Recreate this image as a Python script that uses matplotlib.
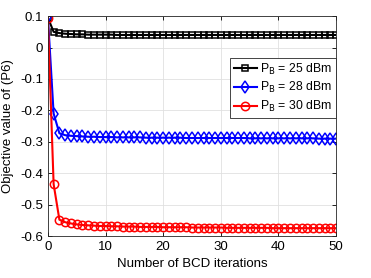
import numpy as np
from matplotlib import pyplot as plt

plt.rcParams['font.family'] = ['Liberation Sans', 'DejaVu Sans']

iters = np.arange(0, 51)

# objective values
obj_25 = [0.095, 0.05, 0.046, 0.044, 0.043, 0.042, 0.042, 0.041, 0.041, 0.041,
          0.041, 0.041, 0.040, 0.040, 0.040, 0.040, 0.040, 0.040, 0.040, 0.040,
          0.040, 0.040, 0.040, 0.040, 0.040, 0.040, 0.040, 0.040, 0.040, 0.040,
          0.040, 0.040, 0.040, 0.040, 0.040, 0.040, 0.040, 0.040, 0.040, 0.040,
          0.040, 0.040, 0.040, 0.040, 0.040, 0.040, 0.040, 0.040, 0.040, 0.040,
          0.040]
obj_28 = [0.10, -0.21, -0.273, -0.279, -0.281, -0.282, -0.283, -0.284, -0.284, -0.285,
          -0.285, -0.285, -0.286, -0.286, -0.286, -0.286, -0.286, -0.287, -0.287, -0.287,
          -0.287, -0.287, -0.287, -0.287, -0.288, -0.288, -0.288, -0.288, -0.288, -0.288,
          -0.288, -0.288, -0.288, -0.288, -0.288, -0.289, -0.289, -0.289, -0.289, -0.289,
          -0.289, -0.289, -0.289, -0.289, -0.289, -0.289, -0.289, -0.290, -0.290, -0.290,
          -0.290]
obj_30 = [0.095, -0.435, -0.548, -0.556, -0.560, -0.563, -0.565, -0.566, -0.567, -0.568,
          -0.568, -0.569, -0.569, -0.570, -0.570, -0.570, -0.571, -0.571, -0.571, -0.571,
          -0.572, -0.572, -0.572, -0.572, -0.572, -0.573, -0.573, -0.573, -0.573, -0.573,
          -0.573, -0.574, -0.574, -0.574, -0.574, -0.574, -0.574, -0.574, -0.574, -0.575,
          -0.575, -0.575, -0.575, -0.575, -0.575, -0.575, -0.575, -0.575, -0.575, -0.575,
          -0.575]

fig = plt.figure(figsize=(3.71, 2.78), dpi=100)
ax = fig.add_axes([0.129, 0.151, 0.777, 0.791])

ax.plot(iters, obj_25, '-s', color='black', lw=1.5, ms=4.5, mfc='none', mew=1.1,
        label=r'P$_\mathrm{B}$ = 25 dBm')
ax.plot(iters, obj_28, '-d', color='blue', lw=1.5, ms=6, mfc='none', mew=1.1,
        label=r'P$_\mathrm{B}$ = 28 dBm')
ax.plot(iters, obj_30, '-o', color='red', lw=1.5, ms=6, mfc='none', mew=1.1,
        label=r'P$_\mathrm{B}$ = 30 dBm')

ax.set_xlim(0, 50)
ax.set_ylim(-0.6, 0.1)
ax.set_xticks([0, 10, 20, 30, 40, 50])
ax.set_yticks([-0.6, -0.5, -0.4, -0.3, -0.2, -0.1, 0, 0.1])
ax.set_yticklabels(['-0.6', '-0.5', '-0.4', '-0.3', '-0.2', '-0.1', '0', '0.1'])
ax.grid(True, color='#e0e0e0', lw=0.6)
ax.set_axisbelow(True)
ax.tick_params(direction='in', labelsize=9.5, length=3, width=0.6, top=True, right=True)
for s in ax.spines.values():
    s.set_linewidth(0.6)
    s.set_color('#262626')

ax.set_xlabel('Number of BCD iterations', fontsize=9.5)
ax.set_ylabel('Objective value of (P6)', fontsize=9.5)

leg = ax.legend(loc='upper right', bbox_to_anchor=(1.0, 0.81), fontsize=8.8,
                fancybox=False, edgecolor='#262626', borderaxespad=0,
                handlelength=1.9, handletextpad=0.3, labelspacing=0.3,
                borderpad=0.3, framealpha=1)
leg.get_frame().set_linewidth(0.6)

fig.savefig('out.png', dpi=100)
